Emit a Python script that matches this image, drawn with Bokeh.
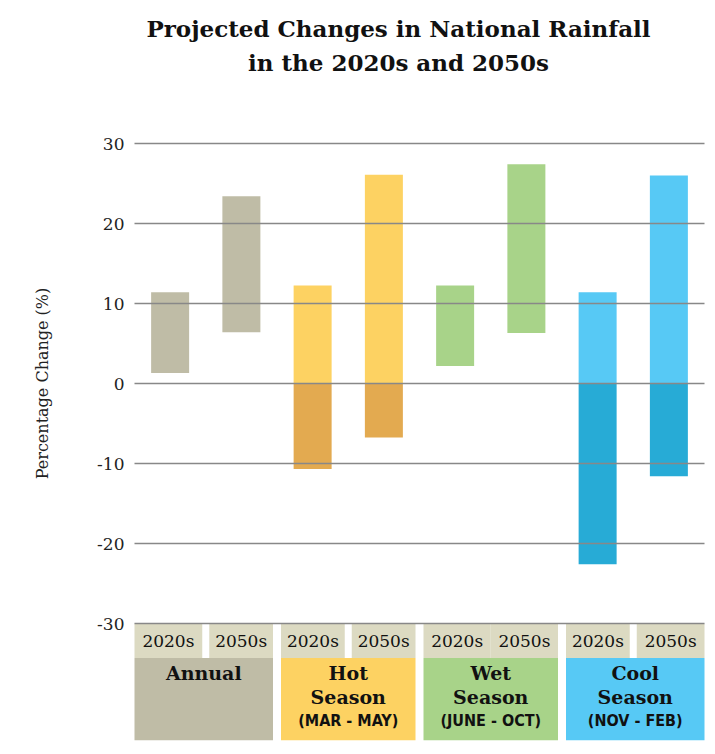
import math
from bokeh.plotting import figure
from bokeh.models import ColumnDataSource
from bokeh.core.properties import value
from bokeh.embed import file_html
from bokeh.resources import INLINE

# ---------------- data ----------------
title_lines = ["Projected Changes in National Rainfall", "in the 2020s and 2050s"]
y_label = "Percentage Change (%)"
groups = ["Annual", "Hot\nSeason", "Wet\nSeason", "Cool\nSeason"]
group_months = ["", "(MAR - MAY)", "(JUNE - OCT)", "(NOV - FEB)"]
periods = ["2020s", "2050s"]
upper = [11.4, 23.4, 12.25, 26.1, 12.25, 27.4, 11.4, 26.0]
lower = [1.3, 6.4, -10.7, -6.75, 2.2, 6.3, -22.6, -11.6]
light_colors = ["#BFBCA6", "#FDD262", "#A8D389", "#57C9F5"]
dark_colors = ["#BFBCA6", "#E3AA50", "#A8D389", "#27ABD6"]
period_gap = [True, True, False, True]
tick_values = [-30, -20, -10, 0, 10, 20, 30]
tick_labels = ["-30", "-20", "-10", "0", "10", "20", "30"]

SERIF = "DejaVu Serif"
NARROW = "DejaVu Sans Condensed"

# ---------------- layout (pixels -> data units) ----------------
W, H = 712, 750
SLOT_PX = 71.25          # width of one bar slot
UNIT_PX = 8.0            # pixels per 1 % on y
LEFT_PX = 134            # left edge of the plotting area
TOP_PX = 143             # pixel row of the top gridline (30)
Y_TOP = 30
Y_BOTTOM = -44.6         # bottom of label boxes
ROW1_BOTTOM = -34.3      # bottom of the "2020s/2050s" row
px = 1.0 / SLOT_PX       # one pixel in x units

x_range = (-LEFT_PX * px, (W - LEFT_PX) * px)
y_range = (Y_TOP - (H - TOP_PX) / UNIT_PX, Y_TOP + TOP_PX / UNIT_PX)

p = figure(width=W, height=H, x_range=x_range, y_range=y_range,
           output_backend="svg", toolbar_location=None,
           x_axis_location=None, y_axis_location=None, min_border=0)
p.outline_line_color = None
p.xgrid.visible = False
p.ygrid.visible = False
p.background_fill_color = "white"
p.border_fill_color = "white"

# bars
n = len(upper)
xs = [i + 0.5 for i in range(n)]
gi = [i // 2 for i in range(n)]
BAR_W = 38 * px
light = ColumnDataSource(dict(
    x=xs,
    top=upper,
    bottom=[max(lo, 0) for lo in lower],
    color=[light_colors[g] for g in gi],
))
p.vbar(x="x", top="top", bottom="bottom", width=BAR_W, color="color",
       source=light, line_color=None)
neg_idx = [i for i in range(n) if lower[i] < 0]
dark = ColumnDataSource(dict(
    x=[xs[i] for i in neg_idx],
    top=[min(upper[i], 0) for i in neg_idx],
    bottom=[lower[i] for i in neg_idx],
    color=[dark_colors[gi[i]] for i in neg_idx],
))
p.vbar(x="x", top="top", bottom="bottom", width=BAR_W, color="color",
       source=dark, line_color=None)

# bottom label boxes
ng = len(groups)
GAP = 8 * px
g_left = [2 * g + (GAP / 2 if g > 0 else 0) for g in range(ng)]
g_right = [2 * g + 2 - (GAP / 2 if g < ng - 1 else 0) for g in range(ng)]
p.quad(left=g_left, right=g_right, top=[ROW1_BOTTOM] * ng, bottom=[Y_BOTTOM] * ng,
       color=light_colors, line_color=None)

sub_l, sub_r, sub_x, sub_t = [], [], [], []
for g in range(ng):
    mid = 2 * g + 1
    gap = 3.5 * px if period_gap[g] else 0
    lefts = [g_left[g], mid + gap]
    rights = [mid - gap, g_right[g]]
    for k in range(2):
        sub_l.append(lefts[k])
        sub_r.append(rights[k])
        sub_x.append((lefts[k] + rights[k]) / 2)
        sub_t.append(periods[k])
p.quad(left=sub_l, right=sub_r, top=[tick_values[0]] * len(sub_l),
       bottom=[ROW1_BOTTOM] * len(sub_l), color="#DCDAC2", line_color=None)
p.text(x=sub_x, y=[-32.2] * len(sub_x), text=sub_t, text_font=value(SERIF),
       text_font_size="17px", text_align="center", text_baseline="middle",
       text_color="#111111")

gx = [(g_left[g] + g_right[g]) / 2 for g in range(ng)]
p.text(x=gx, y=[-34.8] * ng, text=groups, text_font=value(SERIF),
       text_font_size="19px", text_font_style="bold", text_align="center",
       text_baseline="top", text_color="#111111", text_line_height=1.1)
p.text(x=gx, y=[-42.1] * ng, text=group_months, text_font=value(NARROW),
       text_font_size="16px", text_font_style="bold", text_align="center",
       text_baseline="middle", text_color="#111111")

# gridlines (drawn over the bars)
nt = len(tick_values)
p.segment(x0=[0] * nt, x1=[2 * ng] * nt, y0=tick_values, y1=tick_values,
          line_color="#888888", line_width=1.6)

# tick labels
p.text(x=[0] * nt, y=tick_values, text=tick_labels, x_offset=-10,
       text_font=value(SERIF), text_font_size="17px", text_align="right",
       text_baseline="middle", text_color="#222222")

# y-axis label
p.text(x=[-92 * px], y=[0], text=[y_label], angle=math.pi / 2,
       text_font=value(SERIF), text_font_size="16px", text_align="center",
       text_baseline="middle", text_color="#222222")

# title
p.text(x=[264 * px] * 2, y=[44.4, 40.1], text=title_lines,
       text_font=value(SERIF), text_font_size="23px", text_font_style="bold",
       text_align="center", text_baseline="middle", text_color="#111111")

open("out.html", "w").write(file_html(p, INLINE))
